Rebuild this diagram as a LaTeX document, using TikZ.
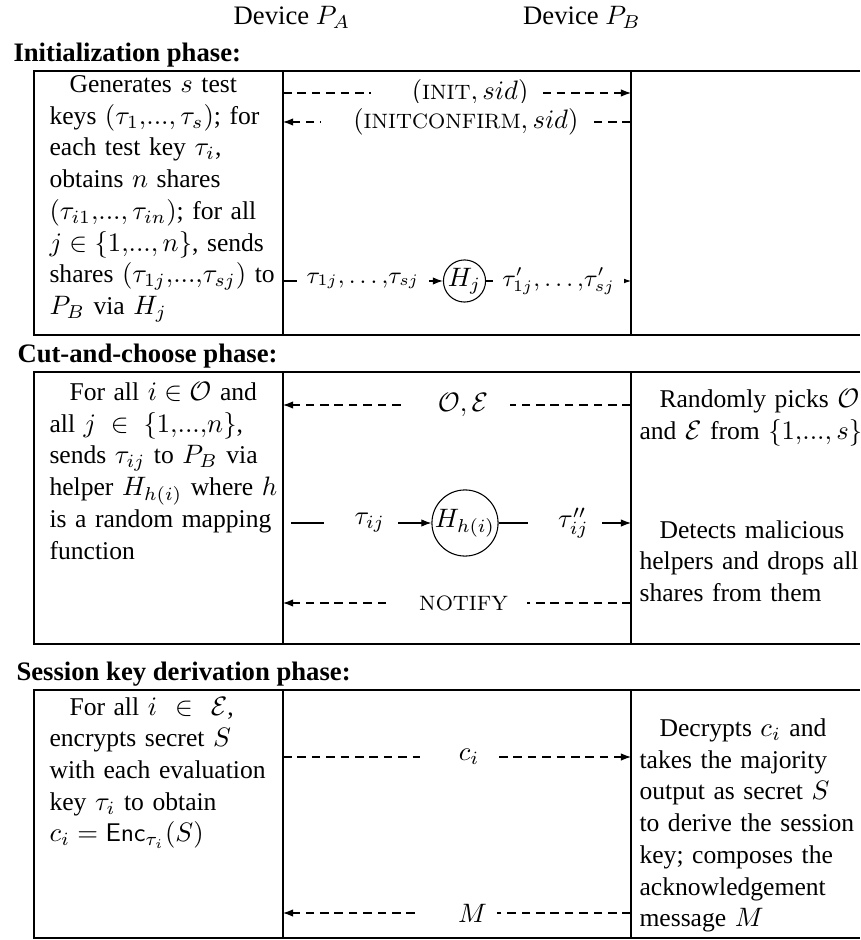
\documentclass[tikz,border=0pt]{standalone}
\usepackage{fontspec}
\setmainfont{Liberation Serif}
\usetikzlibrary{arrows.meta}
\newcommand{\smcap}[1]{{\fontfamily{lmr}\fontsize{7.8}{9}\selectfont #1}}
\begin{document}
\begin{tikzpicture}[x=0.375pt,y=-0.375pt,
  frame/.style={line width=0.45pt},
  msg/.style={line width=0.4pt, dash pattern=on 3.2pt off 2.2pt},
  tip/.style={-{Latex[length=3.8pt,width=2.8pt]}},
  lbl/.style={fill=white, inner xsep=0pt, inner ysep=2.3pt},
  tl/.style={fill=white, inner xsep=3.5pt, inner ysep=1pt, font=\fontsize{9}{10}\selectfont},
  txt/.style={anchor=base west, inner sep=0pt, align=left, text width=92pt, font=\fontsize{9.6}{11.9}\selectfont},
  head/.style={anchor=base west, inner sep=0pt, font=\fontsize{10}{12}\selectfont\bfseries},
  dev/.style={anchor=base, inner sep=0pt, font=\fontsize{10}{12}\selectfont},
  helper/.style={circle, draw, line width=0.4pt, inner sep=0pt},
]
\useasboundingbox (0,0) rectangle (860,940);

% column titles and phase headings
\node[dev] (devA) at (292,25) {Device $P_A$};
\node[dev] (devB) at (582,25) {Device $P_B$};
\node[head] (h1) at (13,62) {Initialization phase:};
\node[head] (h2) at (17,363) {Cut-and-choose phase:};
\node[head] (h3) at (16,680) {Session key derivation phase:};

% frames
\draw[frame] (860,71) -- (34,71) -- (34,335) -- (860,335);
\draw[frame] (283,71) -- (283,335);
\draw[frame] (631,71) -- (631,335);
\draw[frame] (860,372) -- (34,372) -- (34,644) -- (860,644);
\draw[frame] (283,372) -- (283,644);
\draw[frame] (631,372) -- (631,644);
\draw[frame] (860,690) -- (34,690) -- (34,938) -- (860,938);
\draw[frame] (283,690) -- (283,938);
\draw[frame] (631,690) -- (631,938);

% ---------- Initialization phase ----------
\node[txt] (initA) at (49,92.5) {\hspace*{7.5pt}Generates $s$ test\\
keys $(\tau_1{,}...,\tau_s)$; for\\
each test key $\tau_i$,\\
obtains $n$ shares\\
$(\tau_{i1}{,}...,\tau_{in})$; for all\\
$j\in\{1{,}...,n\}$, sends\\
shares $(\tau_{1j}{,}...{,}\tau_{sj})$ to\\
$P_B$ via $H_j$};

\coordinate (a1) at (283,93);  \coordinate (b1) at (631,93);
\coordinate (a2) at (283,122); \coordinate (b2) at (631,122);
\draw[msg,tip] (a1) -- node[lbl] (m1) {\hspace*{15.4pt}$(\mbox{\smcap{INIT}}, sid)$\hspace*{5.6pt}} (b1);
\draw[msg,tip] (b2) -- node[lbl] (m2) {\hspace*{12pt}$(\mbox{\smcap{INITCONFIRM}}, sid)$\hspace*{5.3pt}} (a2);

\node[helper, minimum size=13.5pt] (Hj) at (464.5,281) {$H_j$};
\coordinate (t1s) at (283,281); \coordinate (t1e) at (631,281);
\draw[tip] (t1s) -- node[tl] (s1) {$\tau_{1j}{,}\ldots{,}\tau_{sj}$} (Hj);
\draw[tip] (Hj) -- node[tl] (s2) {$\tau'_{1j}{,}\ldots{,}\tau'_{sj}$} (t1e);

% ---------- Cut-and-choose phase ----------
\node[txt] (cutA) at (49,400.5) {\hspace*{7.5pt}For all $i\in\mathcal{O}$ and\\
all $j\;\in\;\{1{,}...{,}n\}$,\\
sends $\tau_{ij}$ to $P_B$ via\\
helper $H_{h(i)}$ where $h$\\
is a random mapping\\
function};

\node[txt, text width=90pt] (cutB1) at (639,408) {\hspace*{7.5pt}Randomly picks $\mathcal{O}$\\
and $\mathcal{E}$ from $\{1{,}...,s\}$};
\node[txt, text width=90pt] (cutB2) at (639,538) {\hspace*{7.5pt}Detects malicious\\
helpers and drops all\\
shares from them};

\coordinate (a3) at (283,405); \coordinate (b3) at (631,405);
\draw[msg,tip] (b3) -- node[lbl] (m3) {\hspace*{12.8pt}$\mathcal{O},\mathcal{E}$\hspace*{8.3pt}} (a3);

\node[helper, minimum size=22pt] (Hh) at (465,523) {$H_{h(i)}$};
\coordinate (t2s) at (291,523); \coordinate (t2e) at (631,523);
\draw[tip] (t2s) -- node[lbl] (s3) {\hspace*{11.3pt}$\tau_{ij}$\hspace*{4.9pt}} (Hh);
\draw[tip] (Hh) -- node[lbl] (s4) {\hspace*{11.3pt}$\tau''_{ij}$\hspace*{4.9pt}} (t2e);

\coordinate (a4) at (283,603); \coordinate (b4) at (631,603);
\draw[msg,tip] (b4) -- node[lbl] (m4) {\hspace*{12pt}\smcap{NOTIFY}\hspace*{7.1pt}} (a4);

% ---------- Session key derivation phase ----------
\node[txt] (sesA) at (49,715) {\hspace*{7.5pt}For all $i\hspace{4pt}\in\hspace{4pt}\mathcal{E}$,\\
encrypts secret $S$\\
with each evaluation\\
key $\tau_i$ to obtain\\
$c_i=\mathsf{Enc}_{\tau_i}(S)$};

\node[txt, text width=90pt] (sesB) at (639,736.5) {\hspace*{7.5pt}Decrypts $c_i$ and\\
takes the majority\\
output as secret $S$\\
to derive the session\\
key; composes the\\
acknowledgement\\
message $M$};

\coordinate (a5) at (283,757); \coordinate (b5) at (631,757);
\draw[msg,tip] (a5) -- node[lbl] (m5) {\hspace*{14.6pt}$c_i$\hspace*{5.6pt}} (b5);
\coordinate (a6) at (283,913); \coordinate (b6) at (631,913);
\draw[msg,tip] (b6) -- node[lbl] (m6) {\hspace*{15.4pt}$M$\hspace*{3.8pt}} (a6);
\end{tikzpicture}
\end{document}
